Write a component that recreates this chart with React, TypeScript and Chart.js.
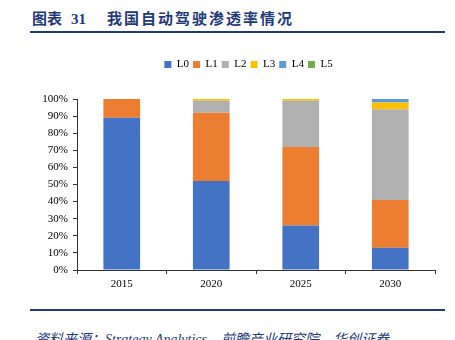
import React, { useEffect, useRef } from "react";
import { Chart, registerables } from "chart.js";

Chart.register(...registerables);

const categories = ["2015", "2020", "2025", "2030"];
const seriesNames = ["L0", "L1", "L2", "L3", "L4", "L5"];
const L0 = [89, 52, 26, 13];
const L1 = [11, 40, 46, 28];
const L2 = [0, 7, 27, 53];
const L3 = [0, 1, 1, 4];
const L4 = [0, 0, 0, 2];
const L5 = [0, 0, 0, 0];
const yTicks = [0, 10, 20, 30, 40, 50, 60, 70, 80, 90, 100];

const colors = ["#4472C4", "#ED7D31", "#B0B0B0", "#FFC000", "#5B9BD5", "#70AD47"];
const seriesValues = [L0, L1, L2, L3, L4, L5];

const SERIF = "'Liberation Serif', 'Times New Roman', serif";

const legendTweak = {
  id: "legendTweak",
  afterInit(chart: any) {
    const legend = chart.legend;
    if (!legend) return;
    const orig = legend.fit.bind(legend);
    legend.fit = function () {
      orig();
      this.height += 19;
    };
  },
  afterLayout(chart: any) {
    const legend = chart.legend;
    if (!legend) return;
    legend.left += 31;
    legend.right += 31;
  },
};

export default function App() {
  const ref = useRef<HTMLCanvasElement>(null);
  useEffect(() => {
    if (!ref.current) return;
    const chart = new Chart(ref.current, {
      type: "bar",
      data: {
        labels: categories,
        datasets: seriesNames.map((name, i) => ({
          label: name,
          data: seriesValues[i],
          backgroundColor: colors[i],
          borderWidth: 0,
          barPercentage: 0.41,
          categoryPercentage: 1,
        })),
      },
      plugins: [legendTweak],
      options: {
        animation: false,
        responsive: false,
        maintainAspectRatio: false,
        layout: { padding: { left: 0, right: 20, top: 0, bottom: 10 } },
        plugins: {
          legend: {
            position: "top",
            labels: {
              boxWidth: 7,
              boxHeight: 7,
              padding: 4,
              color: "#000",
              font: { family: SERIF, size: 11 },
            },
          },
          tooltip: { enabled: false },
        },
        scales: {
          x: {
            stacked: true,
            offset: true,
            grid: {
              offset: true,
              drawOnChartArea: false,
              drawTicks: true,
              tickLength: 4,
              color: "#333",
            },
            border: { color: "#333", width: 1 },
            ticks: { color: "#000", font: { family: SERIF, size: 11 }, padding: 4 },
            afterFit: (s: any) => {
              s.height = 20;
            },
          },
          y: {
            stacked: true,
            min: 0,
            max: 100,
            afterBuildTicks: (s: any) => {
              s.ticks = yTicks.map((v) => ({ value: v }));
            },
            grid: {
              drawOnChartArea: false,
              drawTicks: true,
              tickLength: 4,
              color: "#333",
            },
            border: { color: "#333", width: 1 },
            ticks: {
              color: "#000",
              font: { family: SERIF, size: 11 },
              padding: 5,
              callback: (v: any) => v + "%",
            },
            afterFit: (s: any) => {
              s.width = 77;
            },
          },
        },
      },
    });
    return () => chart.destroy();
  }, []);

  return (
    <div style={{ position: "fixed", left: 0, top: 0, width: 455, height: 340, background: "#fff", overflow: "hidden" }}>
      <div
        style={{
          position: "absolute",
          left: 32,
          top: 8,
          fontFamily: "'Noto Sans CJK SC', sans-serif",
          fontWeight: 700,
          fontSize: 15,
          color: "#1F3A7A",
          whiteSpace: "pre",
          lineHeight: "20px",
        }}
      >
        <span style={{ letterSpacing: 0 }}>图表</span>
        <span style={{ fontFamily: SERIF, marginLeft: 9 }}>31</span>
        <span style={{ position: "absolute", left: 75, top: 0, letterSpacing: 2 }}>我国自动驾驶渗透率情况</span>
      </div>
      <div style={{ position: "absolute", left: 30, top: 31, width: 415, height: 2, background: "#1F3A7A" }} />
      <canvas ref={ref} width={455} height={245} style={{ position: "absolute", left: 0, top: 55 }} />
      <div style={{ position: "absolute", left: 30, top: 309, width: 415, height: 2, background: "#1F3A7A" }} />
      <div
        style={{
          position: "absolute",
          left: 35,
          top: 328,
          fontFamily: "'Noto Sans CJK SC', sans-serif",
          fontStyle: "italic",
          fontSize: 14,
          color: "#1F3A7A",
          whiteSpace: "pre",
          lineHeight: "20px",
        }}
      >
        资料来源：<span style={{ fontFamily: SERIF }}>Strategy Analytics</span>，前瞻产业研究院，华创证券
      </div>
    </div>
  );
}
